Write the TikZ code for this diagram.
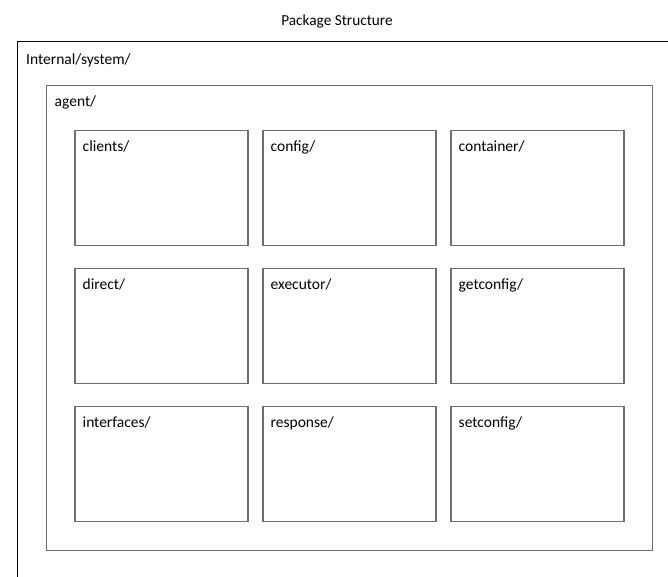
\documentclass[tikz,border=0pt]{standalone}
\usepackage{fontspec}
\setmainfont{Carlito}
\definecolor{edgegrey}{HTML}{6E6E6E}
\tikzset{
  x=1pt, y=-1pt,
  pkglabel/.style={anchor=base west, inner sep=0pt, font=\fontsize{15.5}{18}\selectfont},
  outerpkg/.style={draw=black, line width=1pt},
  pkgbox/.style={draw=edgegrey, line width=1.3pt},
}
\begin{document}
\begin{tikzpicture}
  \useasboundingbox (0,0) rectangle (668,576);
  \clip (0,0) rectangle (668,576);
  \fill[white] (0,0) rectangle (668,576);

  % title
  \node[anchor=base, inner sep=0pt, font=\fontsize{15.3}{18}\selectfont] (title) at (337,25) {Package Structure};

  % outer package, running off the page to the right and bottom
  \draw[outerpkg] (17.5,41.5) rectangle (700,620);
  \node[pkglabel] (sys) at (26,64) {Internal/system/};

  % agent package
  \draw[pkgbox] (46.5,85.5) rectangle (652.5,550.5);
  \node[pkglabel] (agent) at (54.5,106.5) {agent/};

  % 3x3 grid of sub-packages
  \foreach \name [count=\i from 0] in {clients/,config/,container/,direct/,executor/,getconfig/,interfaces/,response/,setconfig/} {
    \pgfmathtruncatemacro{\col}{mod(\i,3)}
    \pgfmathtruncatemacro{\row}{div(\i,3)}
    \pgfmathsetmacro{\xl}{75+188*\col}
    \pgfmathsetmacro{\yt}{130.5+138*\row}
    \draw[pkgbox] (\xl,\yt) rectangle ++(173,115);
    \node[pkglabel] (pkg\i) at (\xl+7.5,\yt+20.5) {\name};
  }
\end{tikzpicture}
\end{document}
